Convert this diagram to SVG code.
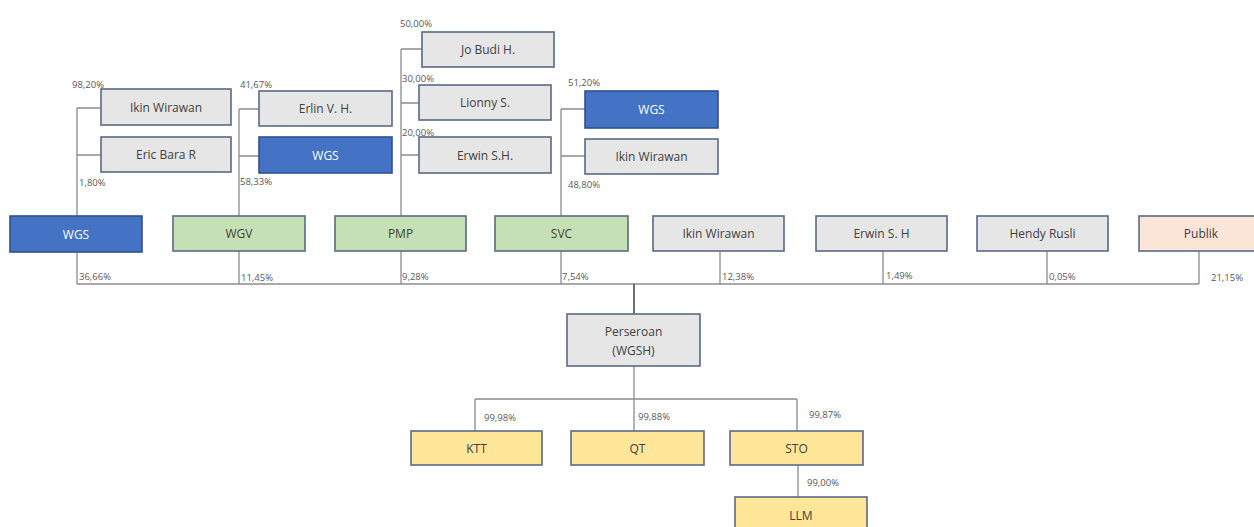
<svg xmlns="http://www.w3.org/2000/svg" width="1254" height="527" viewBox="0 0 1254 527">
<style>
.n rect{stroke:#5A6A85;stroke-width:1.6}
.g rect{fill:#E7E6E6}
.b rect{fill:#4472C4;stroke:#2F528F}
.v rect{fill:#C5E0B4}
.p rect{fill:#FBE5D6}
.y rect{fill:#FFE699}
.n text{font-family:"Open Sans","Liberation Sans",sans-serif;font-size:12px;fill:#404040;text-anchor:middle;dominant-baseline:central}
.b text{fill:#FFFFFF}
#connectors path{fill:none;stroke:#8C8C8C;stroke-width:1.3}
#connectors path.d{stroke:#404040;stroke-width:1.5}
.pc{font-family:"Open Sans","Liberation Sans",sans-serif;font-size:9.5px;fill:#595959;dominant-baseline:central}
</style>
<rect width="1254" height="527" fill="#FFFFFF"/>
<g id="connectors">
<path d="M77,108 H101 M77,155 H101 M77,108 V284"/>
<path d="M239,109 H259 M239,156 H259 M239,109 V284"/>
<path d="M401,49 H422 M401,103 H419 M401,155 H419 M401,49 V284"/>
<path d="M561,109 H585 M561,156 H585 M561,109 V284"/>
<path d="M720,251 V284 M883,251 V284 M1047,251 V284 M1199,251 V284"/>
<path d="M77,284 H1199"/>
<path class="d" d="M634,284 V314"/>
<path d="M634,366 V431 M475,399 H797 M475,399 V431 M797,399 V431 M798,465 V497"/>
</g>
<g id="n-ikin1" class="n g"><rect x="101" y="89" width="130" height="36"/><text x="166" y="107">Ikin Wirawan</text></g>
<g id="n-eric" class="n g"><rect x="101" y="137" width="130" height="35"/><text x="166" y="154.5">Eric Bara R</text></g>
<g id="n-erlin" class="n g"><rect x="259" y="91" width="133" height="35"/><text x="325.5" y="108.5">Erlin  V. H.</text></g>
<g id="n-wgs2" class="n b"><rect x="259" y="137" width="133" height="36"/><text x="325.5" y="155">WGS</text></g>
<g id="n-jo" class="n g"><rect x="422" y="32" width="132" height="35"/><text x="488" y="49.5">Jo Budi H.</text></g>
<g id="n-lionny" class="n g"><rect x="419" y="85" width="132" height="35"/><text x="485" y="102.5">Lionny S.</text></g>
<g id="n-erwin1" class="n g"><rect x="419" y="137" width="132" height="36"/><text x="485" y="155">Erwin S.H.</text></g>
<g id="n-wgs3" class="n b"><rect x="585" y="91" width="133" height="37"/><text x="651.5" y="109.5">WGS</text></g>
<g id="n-ikin2" class="n g"><rect x="585" y="139" width="133" height="35"/><text x="651.5" y="156.5">Ikin Wirawan</text></g>
<g id="n-wgs" class="n b"><rect x="10" y="216" width="132" height="36"/><text x="76" y="234">WGS</text></g>
<g id="n-wgv" class="n v"><rect x="173" y="216" width="132" height="35"/><text x="239" y="233.5">WGV</text></g>
<g id="n-pmp" class="n v"><rect x="335" y="216" width="131" height="35"/><text x="400.5" y="233.5">PMP</text></g>
<g id="n-svc" class="n v"><rect x="495" y="216" width="133" height="35"/><text x="561.5" y="233.5">SVC</text></g>
<g id="n-ikin3" class="n g"><rect x="653" y="216" width="131" height="35"/><text x="718.5" y="233.5">Ikin Wirawan</text></g>
<g id="n-erwin2" class="n g"><rect x="816" y="216" width="131" height="35"/><text x="881.5" y="233.5">Erwin S. H</text></g>
<g id="n-hendy" class="n g"><rect x="977" y="216" width="131" height="35"/><text x="1042.5" y="233.5">Hendy Rusli</text></g>
<g id="n-publik" class="n p"><rect x="1139" y="216" width="125" height="35"/><text x="1201" y="233.5">Publik</text></g>
<g id="n-perseroan" class="n g"><rect x="567" y="314" width="133" height="52"/><text x="633.5" y="331">Perseroan</text><text x="633.5" y="350">(WGSH)</text></g>
<g id="n-ktt" class="n y"><rect x="411" y="431" width="131" height="34"/><text x="476.5" y="448">KTT</text></g>
<g id="n-qt" class="n y"><rect x="571" y="431" width="133" height="34"/><text x="637.5" y="448">QT</text></g>
<g id="n-sto" class="n y"><rect x="730" y="431" width="133" height="34"/><text x="796.5" y="448">STO</text></g>
<g id="n-llm" class="n y"><rect x="735" y="497" width="132" height="36"/><text x="801" y="515">LLM</text></g>
<g id="labels">
<text class="pc" x="72" y="84">98,20%</text>
<text class="pc" x="79" y="182">1,80%</text>
<text class="pc" x="240" y="84">41,67%</text>
<text class="pc" x="240" y="181">58,33%</text>
<text class="pc" x="400" y="23">50,00%</text>
<text class="pc" x="402" y="78">30,00%</text>
<text class="pc" x="402" y="132">20,00%</text>
<text class="pc" x="568" y="82">51,20%</text>
<text class="pc" x="568" y="184">48,80%</text>
<text class="pc" x="79" y="276">36,66%</text>
<text class="pc" x="241" y="277">11,45%</text>
<text class="pc" x="402" y="276">9,28%</text>
<text class="pc" x="562" y="276">7,54%</text>
<text class="pc" x="722" y="276">12,38%</text>
<text class="pc" x="886" y="275">1,49%</text>
<text class="pc" x="1049" y="276">0,05%</text>
<text class="pc" x="1211" y="277">21,15%</text>
<text class="pc" x="484" y="417">99,98%</text>
<text class="pc" x="638" y="416">99,88%</text>
<text class="pc" x="809" y="414">99,87%</text>
<text class="pc" x="807" y="482">99,00%</text>
</g>
</svg>
